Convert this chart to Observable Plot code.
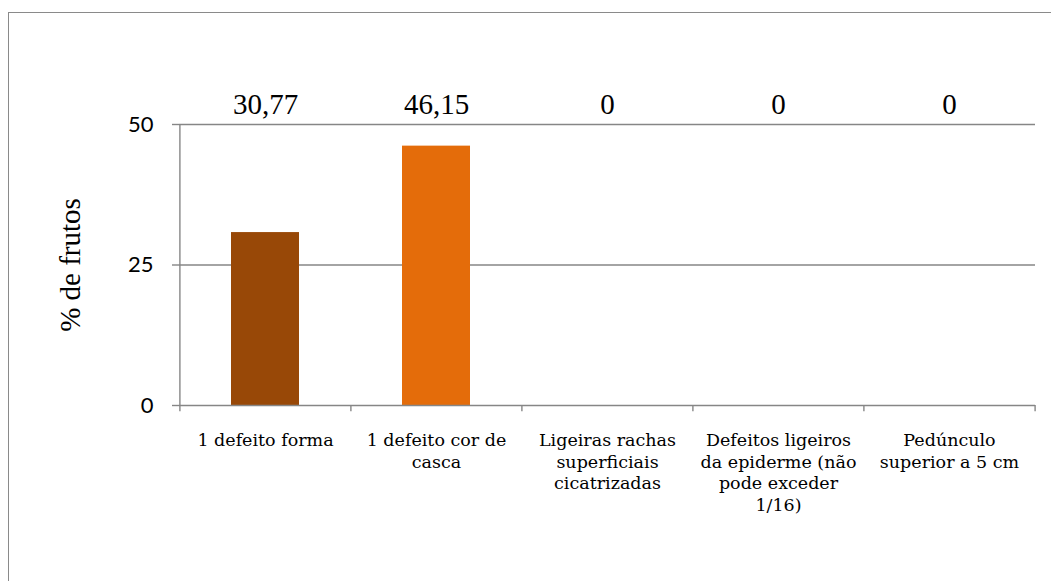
<!DOCTYPE html>
<html>
<head>
<meta charset="utf-8">
<script src="https://cdn.jsdelivr.net/npm/d3@7"></script>
<script src="https://cdn.jsdelivr.net/npm/@observablehq/plot@0.6"></script>
<style>
  html, body { margin: 0; padding: 0; background: #fff; overflow: hidden; }
  #wrap { position: relative; width: 1051px; height: 581px; }
  #border { position: absolute; left: 8px; top: 12px; width: 1200px; height: 800px;
            border-left: 1.5px solid #8a8a8a; border-top: 1.5px solid #8a8a8a; pointer-events: none; }
  #chart { position: absolute; left: 0; top: 0; }
  .yax text, .yax { font-family: Lato, 'Open Sans', sans-serif !important; }
  .xax text, .xax { font-family: 'DejaVu Serif', serif !important; }
  .ser text, .ser { font-family: 'Liberation Serif', serif !important; }
</style>
</head>
<body>
<div id="wrap"><div id="chart"></div><div id="border"></div></div>
<script>
const categories = [
  "1 defeito forma",
  "1 defeito cor de casca",
  "Ligeiras rachas superficiais cicatrizadas",
  "Defeitos ligeiros da epiderme (não pode exceder 1/16)",
  "Pedúnculo superior a 5 cm"
];
const tickLabels = [
  "1 defeito forma",
  "1 defeito cor de\ncasca",
  "Ligeiras rachas\nsuperficiais\ncicatrizadas",
  "Defeitos ligeiros\nda epiderme (não\npode exceder\n1/16)",
  "Pedúnculo\nsuperior a 5 cm"
];
const values = [30.77, 46.15, 0, 0, 0];
const colors = ["#984807", "#E46C0A", "#4F81BD", "#9BBB59", "#8064A2"];
const yTicks = [0, 25, 50];
const yLabel = "% de frutos";

const data = categories.map((c, i) => ({cat: c, val: values[i], label: tickLabels[i]}));
const labelOf = new Map(data.map(d => [d.cat, d.label]));

const W = 1051, H = 581, mL = 179, mR = 16, mT = 124, mB = 176;
const pInner = 0.6, pOuter = 0.3;
const step = (W - mL - mR) / (categories.length - pInner + 2 * pOuter);
const grey = "#868686";
const serif = "'Liberation Serif', 'DejaVu Serif', serif";

const chart = Plot.plot({
  width: W, height: H,
  marginLeft: mL, marginRight: mR, marginTop: mT, marginBottom: mB,
  x: {domain: categories, paddingInner: pInner, paddingOuter: pOuter},
  y: {domain: [0, 50]},
  color: {domain: categories, range: colors},
  style: {background: "transparent", overflow: "visible", fontFamily: serif, color: "black"},
  marks: [
    Plot.gridY([25, 50], {stroke: grey, strokeOpacity: 1, strokeWidth: 1.4}),
    Plot.barY(data, {x: "cat", y: "val", fill: "cat"}),
    Plot.ruleY([0], {stroke: grey, strokeWidth: 1.4}),
    Plot.ruleX([categories[0]], {y1: 0, y2: 50, dx: -step / 2, stroke: grey, strokeWidth: 1.4}),
    Plot.ruleX(categories, {y1: 0, y2: -1.1, dx: -step / 2, stroke: grey, strokeWidth: 1.4}),
    Plot.ruleX([categories[categories.length - 1]], {y1: 0, y2: -1.1, dx: step / 2, stroke: grey, strokeWidth: 1.4}),
    Plot.axisY({ticks: yTicks, tickSize: 7, tickFormat: () => "", stroke: grey, strokeWidth: 1.4, label: null}),
    Plot.axisY({ticks: yTicks, tickSize: 0, tickPadding: 26, label: null, className: "yax",
      fontSize: 22, fill: "black"}),
    Plot.axisX({tickSize: 0, tickPadding: 25.5, label: null, tickFormat: c => labelOf.get(c), className: "xax",
      fontSize: 17.5, lineHeight: 1.23, fill: "black", lineWidth: 100}),
    Plot.text(data, {x: "cat", text: d => String(d.val).replace(".", ","), frameAnchor: "top", dy: -31,
      fontSize: 29, className: "ser", fill: "black"}),
    Plot.text([yLabel], {text: d => d, frameAnchor: "left", dx: -109, rotate: -90, className: "ser",
      fontSize: 29, fill: "black", textAnchor: "middle"})
  ]
});
document.getElementById("chart").appendChild(chart);
</script>
</body>
</html>
